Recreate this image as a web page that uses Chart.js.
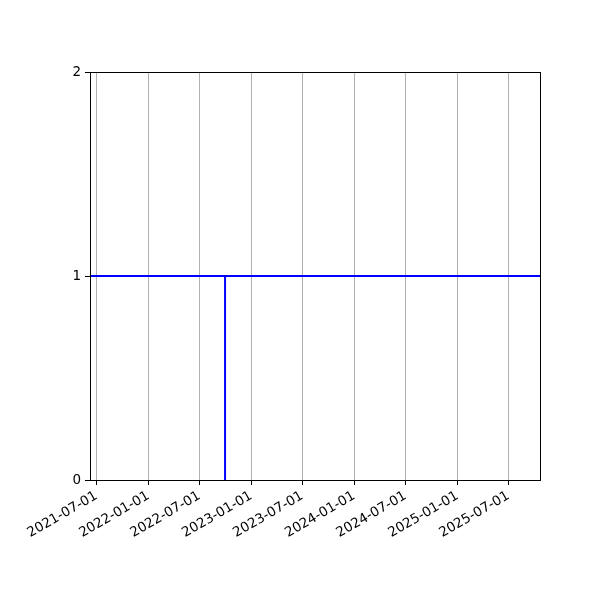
<!DOCTYPE html>
<html>
<head>
<meta charset="utf-8">
<title>Line chart</title>
<script src="https://cdn.jsdelivr.net/npm/chart.js@4/dist/chart.umd.min.js"></script>
<style>
  html, body { margin: 0; padding: 0; background: #fff; }
</style>
</head>
<body>
<canvas id="myChart" width="600" height="600"></canvas>
<script>
// dati
var xStart = "2021-06-08";
var xEnd = "2025-10-21";
var levelDates = [xStart, xEnd];
var levelValues = [1, 1];
var markDates = ["2022-09-30", "2022-09-30"];
var markValues = [0, 1];
var xTickLabels = ["2021-07-01", "2022-01-01", "2022-07-01", "2023-01-01", "2023-07-01",
  "2024-01-01", "2024-07-01", "2025-01-01", "2025-07-01"];
var yTickValues = [0, 1, 2];

function toMs(s) {
  var p = s.split("-");
  return Date.UTC(+p[0], +p[1] - 1, +p[2]);
}

function fmtDate(ms) {
  var d = new Date(ms);
  var m = String(d.getUTCMonth() + 1).padStart(2, "0");
  var g = String(d.getUTCDate()).padStart(2, "0");
  return d.getUTCFullYear() + "-" + m + "-" + g;
}

function toPoints(dates, values) {
  return dates.map(function (d, i) { return { x: toMs(d), y: values[i] }; });
}

// cornice nera intorno all'area del grafico
var framePlugin = {
  id: "frame",
  afterDraw: function (chart) {
    var a = chart.chartArea;
    var c = chart.ctx;
    c.save();
    c.strokeStyle = "#000";
    c.lineWidth = 1;
    c.strokeRect(Math.round(a.left) + 0.5, Math.round(a.top) + 0.5,
      Math.round(a.right - a.left), Math.round(a.bottom - a.top));
    c.restore();
  }
};

Chart.defaults.font.family = "'DejaVu Sans', sans-serif";
Chart.defaults.font.size = 13.5;
Chart.defaults.color = "#000";

var ctx = document.getElementById("myChart").getContext("2d");
var myChart = new Chart(ctx, {
  type: "line",
  data: {
    datasets: [
      {
        data: toPoints(levelDates, levelValues),
        borderColor: "blue",
        borderWidth: 2,
        pointRadius: 0
      },
      {
        data: toPoints(markDates, markValues),
        borderColor: "blue",
        borderWidth: 2,
        pointRadius: 0
      }
    ]
  },
  options: {
    responsive: false,
    animation: false,
    devicePixelRatio: 1,
    layout: { padding: { left: 0, top: 72, right: 60, bottom: 0 } },
    plugins: {
      legend: { display: false },
      tooltip: { enabled: false }
    },
    scales: {
      x: {
        type: "linear",
        min: toMs(xStart),
        max: toMs(xEnd),
        afterBuildTicks: function (scale) {
          scale.ticks = xTickLabels.map(function (s) { return { value: toMs(s) }; });
        },
        afterFit: function (scale) { scale.height = 120; },
        ticks: {
          autoSkip: false,
          minRotation: 30,
          maxRotation: 30,
          padding: 3,
          callback: function (v) { return fmtDate(v); }
        },
        grid: {
          color: "#b0b0b0",
          lineWidth: 1,
          tickColor: "#000",
          tickLength: 5
        },
        border: { display: true, color: "#000" }
      },
      y: {
        min: 0,
        max: 2,
        afterBuildTicks: function (scale) {
          scale.ticks = yTickValues.map(function (v) { return { value: v }; });
        },
        afterFit: function (scale) { scale.width = 90; },
        ticks: { padding: 4 },
        grid: {
          drawOnChartArea: false,
          tickColor: "#000",
          tickLength: 5
        },
        border: { display: true, color: "#000" }
      }
    }
  },
  plugins: [framePlugin]
});
</script>
</body>
</html>
